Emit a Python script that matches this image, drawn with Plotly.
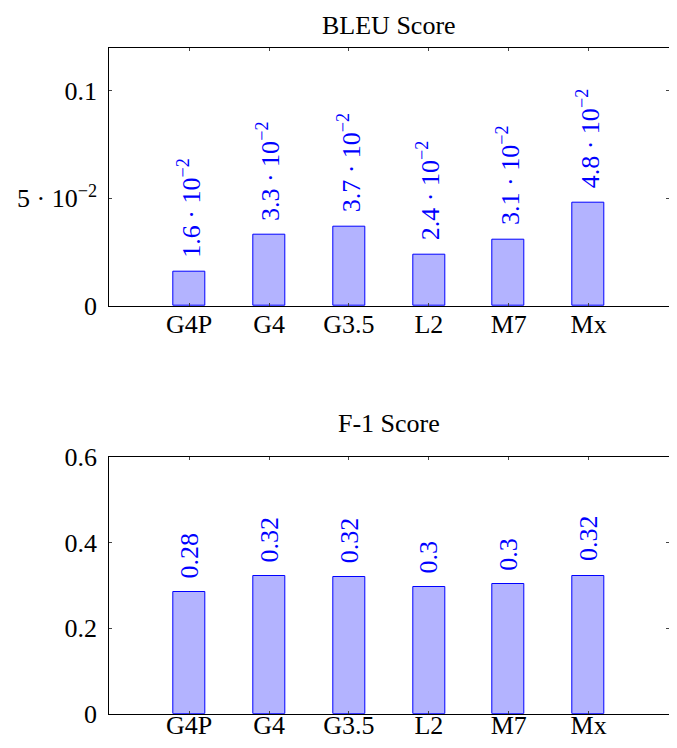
import plotly.graph_objects as go

models = ["G4P", "G4", "G3.5", "L2", "M7", "Mx"]
bleu = [0.016, 0.033, 0.037, 0.024, 0.031, 0.048]
bleu_labels = ["1.6 · 10<sup>−2</sup>", "3.3 · 10<sup>−2</sup>", "3.7 · 10<sup>−2</sup>",
               "2.4 · 10<sup>−2</sup>", "3.1 · 10<sup>−2</sup>", "4.8 · 10<sup>−2</sup>"]
f1 = [0.284, 0.321, 0.319, 0.296, 0.302, 0.323]
f1_labels = ["0.28", "0.32", "0.32", "0.3", "0.3", "0.32"]

bleu_ticks = [0, 0.05, 0.1]
bleu_ticktext = ["0", "5 · 10<sup>−2</sup>", "0.1"]
f1_ticks = [0, 0.2, 0.4, 0.6]
f1_ticktext = ["0", "0.2", "0.4", "0.6"]

# page has an 8px body margin; size the figure so the page fits the window exactly
OFF = 8
W, H = 677 - 2 * OFF, 748 - 2 * OFF
FONT = "Liberation Serif, Times New Roman, Times, serif"
FS = 26
FILL = "#b3b3ff"
BLUE = "#0000ff"


def px_x(v):
    return min(1.0, max(0.0, (v - OFF) / W))


def px_y(v):
    return min(1.0, max(0.0, 1 - (v - OFF) / H))


fig = go.Figure()
fig.add_trace(go.Bar(x=models, y=bleu, width=0.4, marker=dict(color=FILL, line=dict(color=BLUE, width=1)),
                     xaxis="x", yaxis="y", showlegend=False, hoverinfo="skip"))
fig.add_trace(go.Bar(x=models, y=f1, width=0.4, marker=dict(color=FILL, line=dict(color=BLUE, width=1)),
                     xaxis="x2", yaxis="y2", showlegend=False, hoverinfo="skip"))

annotations = []
for m, v, t in zip(models, bleu, bleu_labels):
    annotations.append(dict(x=m, y=v, xref="x", yref="y", text=t, textangle=-90, showarrow=False,
                            xanchor="center", yanchor="bottom", yshift=12,
                            font=dict(family=FONT, size=FS, color=BLUE)))
for m, v, t in zip(models, f1, f1_labels):
    annotations.append(dict(x=m, y=v, xref="x2", yref="y2", text=t, textangle=-90, showarrow=False,
                            xanchor="center", yanchor="bottom", yshift=12,
                            font=dict(family=FONT, size=FS, color=BLUE)))

xdom = [px_x(109.3), px_x(668.5)]
ydom1 = [px_y(306), px_y(47.7)]
ydom2 = [px_y(713.7), px_y(457)]

annotations.append(dict(x=sum(xdom) / 2, y=1, xref="paper", yref="paper", text="BLEU Score",
                        showarrow=False, xanchor="center", yanchor="top", yshift=-1,
                        font=dict(family=FONT, size=FS, color="black")))
annotations.append(dict(x=sum(xdom) / 2, y=px_y(423.5), xref="paper", yref="paper", text="F-1 Score",
                        showarrow=False, xanchor="center", yanchor="middle",
                        font=dict(family=FONT, size=FS, color="black")))

axis_common = dict(showline=True, linecolor="black", linewidth=1, mirror="ticks", ticks="inside",
                   ticklen=3, tickcolor="#444", showgrid=False, zeroline=False, automargin=False,
                   tickfont=dict(family=FONT, size=FS, color="black"))

fig.update_layout(
    width=W, height=H,
    autosize=False,
    margin=dict(l=0, r=0, t=0, b=0, pad=0),
    paper_bgcolor="white", plot_bgcolor="white",
    font=dict(family=FONT, size=FS, color="black"),
    xaxis=dict(domain=xdom, anchor="y", range=[-1, 6], type="category", ticklabelstandoff=-5, **axis_common),
    yaxis=dict(domain=ydom1, anchor="x", range=[0, 0.12], tickvals=bleu_ticks, ticktext=bleu_ticktext,
               ticklabelstandoff=6, **axis_common),
    xaxis2=dict(domain=xdom, anchor="y2", range=[-1, 6], type="category", ticklabelstandoff=-12, **axis_common),
    yaxis2=dict(domain=ydom2, anchor="x2", range=[0, 0.6], tickvals=f1_ticks, ticktext=f1_ticktext,
                ticklabelstandoff=6, **axis_common),
    annotations=annotations,
    bargap=0,
)

fig.write_html("out.html")
